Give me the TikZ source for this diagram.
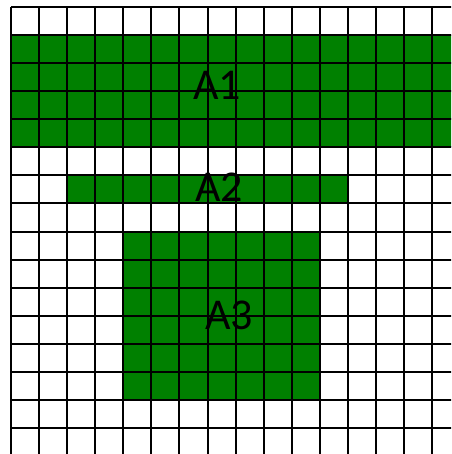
\documentclass[tikz,border=0pt]{standalone}
\usepackage{fontspec}
\setmainfont{Carlito}
\definecolor{areagreen}{RGB}{0,128,0}
\tikzset{
  area/.style={fill=areagreen, draw=none},
  gridline/.style={black, line width=1.5pt},
  lbl/.style={font=\fontsize{44}{44}\selectfont, text=black, inner sep=0pt, anchor=base}
}
\begin{document}
\begin{tikzpicture}[x=1pt, y=-1pt]
\useasboundingbox (0,0) rectangle (451,454);
\fill[white] (0,0) rectangle (451,454);
\begin{scope}
\clip (0,0) rectangle (451,454);
% areas
\fill[area] (11,35) rectangle (460,147);
\fill[area] (67,175) rectangle (348,203);
\fill[area] (123,232) rectangle (320,400);
% grid
\foreach \x in {11,39,67,95,123,151,179,208,236,264,292,320,348,376,404,432} {
  \draw[gridline] (\x,7) -- (\x,460);
}
\foreach \y in {7,35,63,91,119,147,175,203,232,260,288,316,344,372,400,428} {
  \draw[gridline] (11,\y) -- (460,\y);
}
\end{scope}
\node[lbl] (t1) at (217,99.3) {A1};
\node[lbl] (t2) at (219,201.7) {A2};
\node[lbl] (t3) at (229,329.3) {A3};
\end{tikzpicture}
\end{document}
